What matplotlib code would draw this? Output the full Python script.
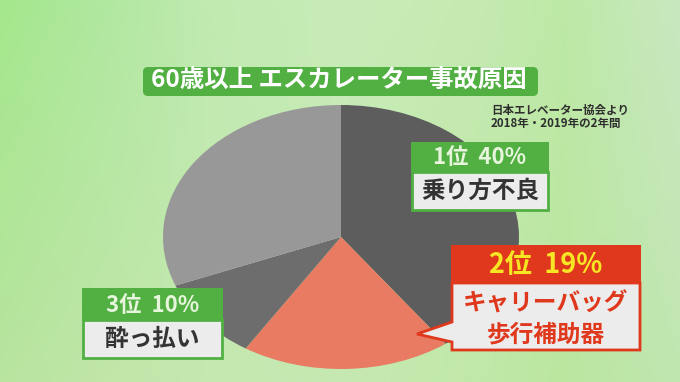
import numpy as np
import matplotlib
matplotlib.use("Agg")
import matplotlib.pyplot as plt
from matplotlib.patches import Rectangle, FancyBboxPatch, Polygon
from matplotlib.colors import to_rgb

plt.rcParams['font.family'] = ['Noto Sans CJK JP', 'DejaVu Sans']

# ---- data ----
title = "60歳以上 エスカレーター事故原因"
source_lines = ["日本エレベーター協会より", "2018年・2019年の2年間"]
categories = ["乗り方不良", "キャリーバッグ\n歩行補助器", "酔っ払い", "その他"]
ranks = ["1位", "2位", "3位", ""]
shares = [40, 19, 10, 31]
slice_colors = ["#5d5d5d", "#e87b62", "#6d6d6d", "#989898"]

W, H = 680, 382
fig = plt.figure(figsize=(W / 100, H / 100), dpi=100)

# ---- background gradient ----
bg = fig.add_axes([0, 0, 1, 1], zorder=0)
bg.set_xlim(0, W); bg.set_ylim(H, 0); bg.axis("off")
xs = np.linspace(0, 1, 200)
stops_x = [0.0, 0.15, 0.3, 0.5, 0.72, 0.83, 1.0]
top_cols = ["#a5e88c", "#b0e8a0", "#c0eab0", "#c8ecb8", "#c4eab0", "#bde9a6", "#c8e8c0"]
bot_cols = ["#b8e4a0", "#c0e6a8", "#c4e8b0", "#c6e8b2", "#c0e8a8", "#bbe6a0", "#c0e6b0"]
def row(cols):
    arr = np.array([to_rgb(c) for c in cols])
    return np.stack([np.interp(xs, stops_x, arr[:, k]) for k in range(3)], axis=-1)
top = row(top_cols); bot = row(bot_cols)
t = np.linspace(0, 1, 100)[:, None, None]
img = top[None] * (1 - t) + bot[None] * t
bg.imshow(img, extent=[0, W, H, 0], aspect="auto", interpolation="bilinear")

# ---- pie (flattened ellipse) ----
px0, px1, py0, py1 = 163, 519, 105, 369
pie_ax = fig.add_axes([px0 / W, (H - py1) / H, (px1 - px0) / W, (py1 - py0) / H], zorder=1)
pie_ax.pie(shares, colors=slice_colors, startangle=90, counterclock=False,
           radius=1, wedgeprops=dict(linewidth=0))
pie_ax.set_aspect("auto")
pie_ax.set_xlim(-1, 1); pie_ax.set_ylim(-1, 1)
pie_ax.axis("off")

# ---- overlay ----
ov = fig.add_axes([0, 0, 1, 1], zorder=2)
ov.set_xlim(0, W); ov.set_ylim(H, 0); ov.axis("off")
ov.patch.set_alpha(0)

green = "#52b043"
red = "#e0381c"
body_bg = "#ececec"

# title
ov.add_patch(FancyBboxPatch((145, 69), 391, 25, boxstyle="round,pad=2,rounding_size=5",
                            fc=green, ec="none"))
ov.text(339, 81, title, ha="center", va="center", fontsize=17.6, fontweight="bold", color="white")

# source
for i, s in enumerate(source_lines):
    ov.text(491, 110 + 13 * i, s, ha="left", va="center", fontsize=8.3, fontweight="bold", color="#2e2e2e")

def green_label(x0, x1, y0, ym, y1, head, body):
    ov.add_patch(Rectangle((x0, ym), x1 - x0, y1 - ym, fc=body_bg, ec=green, lw=2))
    ov.add_patch(Rectangle((x0 - 1, y0), x1 - x0 + 2, ym - y0, fc=green, ec="none"))
    ov.text((x0 + x1) / 2, (y0 + ym) / 2 + 1, head, ha="center", va="center",
            fontsize=16, fontweight="bold", color="#e6f5dc")
    ov.text((x0 + x1) / 2, (ym + y1) / 2, body, ha="center", va="center",
            fontsize=17, fontweight="bold", color="#333333")

green_label(412, 548, 142, 172, 210, f"{ranks[0]}  {shares[0]}%", categories[0])
green_label(83, 222, 288, 320, 358, f"{ranks[2]}  {shares[2]}%", categories[2])

# red callout label
x0, x1, y0, ym, y1 = 452, 640, 245, 283, 350
ov.add_patch(Polygon([(x0, ym), (x1, ym), (x1, y1), (x0, y1), (x0, 342), (417, 334), (x0, 322)],
                     closed=True, fc=body_bg, ec=red, lw=2, joinstyle="miter"))
ov.add_patch(Rectangle((x0 - 1, y0), x1 - x0 + 2, ym - y0, fc=red, ec="none"))
ov.text((x0 + x1) / 2, (y0 + ym) / 2 + 1, f"{ranks[1]}  {shares[1]}%", ha="center", va="center",
        fontsize=19.5, fontweight="bold", color="#f7e624")
b1, b2 = categories[1].split("\n")
ov.text((x0 + x1) / 2, 304, b1, ha="center", va="center", fontsize=17, fontweight="bold", color=red)
ov.text((x0 + x1) / 2, 334, b2, ha="center", va="center", fontsize=17, fontweight="bold", color=red)

fig.savefig("out.png", dpi=100)
